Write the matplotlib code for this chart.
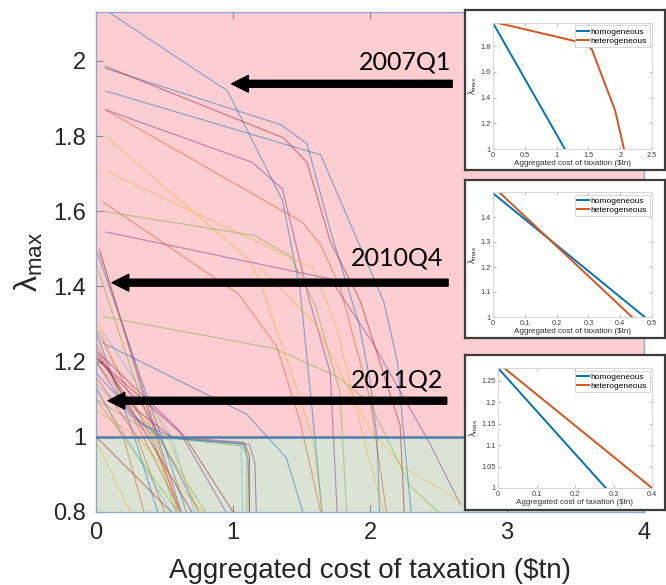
import matplotlib
matplotlib.use("Agg")
import matplotlib.pyplot as plt
from matplotlib.patches import FancyArrowPatch

plt.rcParams['font.family'] = ['Liberation Sans', 'DejaVu Sans']
plt.rcParams['mathtext.fontset'] = 'custom'
plt.rcParams['mathtext.rm'] = 'Liberation Sans'
plt.rcParams['mathtext.it'] = 'Liberation Sans'

# MATLAB default line colours
palette = ['#0072BD', '#D95319', '#EDB120', '#7E2F8E', '#77AC30', '#4DBEEE', '#A2142F']

# frontier per quarter: lambda_max against aggregated cost of taxation
early_x = [
    [0.05, 0.96, 1.36, 1.49, 1.57, 1.65],
    [0.07, 1.35, 1.54, 1.71, 1.92, 2.0, 2.05, 2.07],
    [0.07, 1.37, 1.54, 1.71, 1.93, 2.22, 2.25],
    [0.07, 1.64, 2.1, 2.2, 2.24, 2.3],
    [0.07, 1.14, 1.36, 1.56, 1.71, 1.76],
    [0.07, 1.51, 1.64, 1.78, 2.0, 2.12],
    [0.07, 1.12, 1.2, 1.49, 1.58, 1.65],
    [0.08, 1.58, 1.75, 1.95, 2.1],
    [0.05, 1.04, 1.32, 1.49, 1.64],
    [0.05, 1.16, 1.42, 1.6, 1.78, 1.83],
    [0.07, 1.71, 2.02, 2.44, 2.66],
]
early_y = [
    [2.14, 1.92, 1.63, 1.39, 1.1, 0.8],
    [1.98, 1.83, 1.78, 1.55, 1.3, 1.15, 1.0, 0.8],
    [1.985, 1.795, 1.73, 1.52, 1.36, 1.03, 0.8],
    [1.92, 1.75, 1.36, 1.2, 1.03, 0.8],
    [1.87, 1.73, 1.66, 1.36, 1.17, 0.8],
    [1.87, 1.57, 1.51, 1.40, 1.1, 0.8],
    [1.8, 1.47, 1.41, 1.1, 1.0, 0.8],
    [1.705, 1.45, 1.3, 1.0, 0.8],
    [1.625, 1.38, 1.24, 1.04, 0.8],
    [1.60, 1.535, 1.48, 1.35, 1.12, 0.8],
    [1.545, 1.42, 1.25, 0.98, 0.82],
]
early_c = [0, 0, 6, 0, 3, 1, 2, 2, 1, 4, 3]

mid_x = [
    [0.03, 0.45, 0.62],
    [0.0, 0.477, 0.66],
    [0.02, 0.42, 0.58],
    [0.023, 0.437, 0.6],
    [0.05, 1.3, 1.76, 2.0, 2.29, 2.5],
    [0.05, 1.1, 1.25, 1.39, 1.51],
    [1.2, 1.6, 2.0, 2.24, 2.66],
]
mid_y = [
    [1.49, 1.0, 0.8],
    [1.50, 1.0, 0.8],
    [1.44, 1.0, 0.8],
    [1.50, 1.0, 0.8],
    [1.32, 1.235, 1.16, 1.09, 0.87, 0.8],
    [1.25, 1.06, 1.0, 0.944, 0.8],
    [1.45, 1.3, 1.02, 0.92, 0.83],
]
mid_c = [3, 0, 4, 1, 4, 0, 2]

late_x = [
    [0.0, 0.28, 0.45],
    [0.016, 0.4, 0.62],
    [0.0, 0.25, 0.47, 1.12, 1.16, 1.17],
    [0.0, 0.3, 0.5, 1.04, 1.06, 1.07],
    [0.0, 0.35, 0.6, 1.08, 1.11, 1.12],
    [0.0, 0.4, 0.7, 1.07, 1.1, 1.1],
    [0.0, 0.3, 0.55, 1.08, 1.12, 1.12],
    [0.0, 0.62],
    [0.02, 0.7],
    [0.0, 0.35, 0.75],
    [0.0, 0.25],
    [0.0, 0.3, 0.78],
    [0.0, 0.55],
    [0.05, 0.55, 0.72],
    [0.0, 0.45, 0.8],
    [0.0, 0.3, 0.5],
    [0.0, 0.2, 0.35],
    [0.02, 0.12, 0.5, 0.75],
    [0.0, 0.6, 0.95],
    [0.0, 0.65, 1.0],
    [0.0, 0.55],
    [0.0, 0.6],
]
late_y = [
    [1.28, 1.0, 0.8],
    [1.28, 1.0, 0.8],
    [1.2, 1.06, 1.0, 0.98, 0.93, 0.8],
    [1.14, 1.04, 0.995, 0.985, 0.97, 0.8],
    [1.17, 1.03, 0.995, 0.98, 0.94, 0.8],
    [1.1, 1.01, 0.99, 0.975, 0.95, 0.8],
    [1.22, 1.07, 1.0, 0.985, 0.95, 0.8],
    [1.25, 0.8],
    [1.22, 0.8],
    [1.21, 1.08, 0.8],
    [0.99, 0.8],
    [1.07, 1.0, 0.8],
    [1.0, 0.8],
    [1.28, 1.0, 0.8],
    [1.2, 1.0, 0.8],
    [1.16, 1.0, 0.8],
    [1.13, 1.0, 0.8],
    [1.3, 1.2, 1.02, 0.8],
    [1.23, 1.02, 0.8],
    [1.21, 1.0, 0.8],
    [1.13, 0.8],
    [1.1, 0.8],
]
late_c = [0, 1, 3, 5, 0, 4, 6, 1, 6, 3, 2, 2, 6, 5, 4, 1, 1, 2, 3, 6, 5, 4]

# highlighted quarters: label, arrow tip, arrow tail, arrow height
quarters = ['2007Q1', '2010Q4', '2011Q2']
arrow_tip = [0.99, 0.117, 0.088]
arrow_tail = [2.6, 2.57, 2.56]
arrow_y = [1.939, 1.41, 1.096]
label_x = [2.255, 2.2, 2.2]
label_y = [1.997, 1.476, 1.152]

# inset frontiers, homogeneous vs heterogeneous taxation
ins1_hom_x, ins1_hom_y = [0.0, 1.13], [1.98, 1.0]
ins1_het_x = [0.08, 1.37, 1.55, 1.92, 1.99, 2.06]
ins1_het_y = [1.98, 1.83, 1.78, 1.30, 1.15, 1.0]
ins2_hom_x, ins2_hom_y = [0.0, 0.477], [1.495, 1.0]
ins2_het_x, ins2_het_y = [0.023, 0.437], [1.495, 1.0]
ins3_hom_x, ins3_hom_y = [0.0, 0.28], [1.28, 1.0]
ins3_het_x, ins3_het_y = [0.016, 0.4], [1.28, 1.0]

pink = '#FCCDD1'
green = '#DBE4D4'
spine_col = '#8EA9CB'

fig = plt.figure(figsize=(6.66, 5.85), dpi=100)
ax = fig.add_axes([96 / 666, 1 - 512 / 585, 548 / 666, 500 / 585])
ax.axhspan(1.0, 2.2, color=pink, lw=0, zorder=0)
ax.axhspan(0.6, 1.0, color=green, lw=0, zorder=0)

for xs_all, ys_all, cs in [(early_x, early_y, early_c), (mid_x, mid_y, mid_c), (late_x, late_y, late_c)]:
    for xs, ys, c in zip(xs_all, ys_all, cs):
        ax.plot(xs, ys, color=palette[c], lw=0.8, alpha=0.5, zorder=2)

ax.axhline(1.0, color='#4F7CAC', lw=1.8, zorder=3)
ax.set_xlim(0, 4)
ax.set_ylim(0.8, 2.13)
ax.set_xticks([0, 1, 2, 3, 4])
ax.set_xticklabels(['0', '1', '2', '3', '4'])
ax.set_yticks([0.8, 1.0, 1.2, 1.4, 1.6, 1.8, 2.0])
ax.set_yticklabels(['0.8', '1', '1.2', '1.4', '1.6', '1.8', '2'])
ax.tick_params(direction='in', length=5, top=True, right=True, labelsize=17,
               color='#8a8a8a', labelcolor='#262626', pad=7)
for s in ax.spines.values():
    s.set_color(spine_col)
    s.set_linewidth(1.0)
ax.set_xlabel('Aggregated cost of taxation ($tn)', fontsize=20, color='#262626', labelpad=10)
ax.set_ylabel(r'$\lambda_{\rm max}$', fontsize=23, color='#262626', labelpad=6)

for name, tip, tail, ya, lx, ly in zip(quarters, arrow_tip, arrow_tail, arrow_y, label_x, label_y):
    ax.add_patch(FancyArrowPatch((tail, ya), (tip, ya),
                                 arrowstyle='simple,head_length=12,head_width=12,tail_width=5',
                                 mutation_scale=1, color='black', shrinkA=0, shrinkB=0, zorder=5))
    ax.text(lx, ly, name, fontsize=18, family=['Lato', 'DejaVu Sans'],
            ha='center', va='center', color='black', zorder=5)


def draw_inset(box, inner, hx, hy, tx, ty, xlim, ylim, xt, xtl, yt, ytl):
    bg = fig.add_axes(box, zorder=5)
    bg.set_facecolor('white')
    bg.set_xticks([])
    bg.set_yticks([])
    for s in bg.spines.values():
        s.set_color('#3c3c3c')
        s.set_linewidth(1.6)
    ia = fig.add_axes(inner, zorder=6)
    ia.plot(hx, hy, color=palette[0], lw=1.4, label='homogeneous')
    ia.plot(tx, ty, color=palette[1], lw=1.4, label='heterogeneous')
    ia.set_xlim(*xlim)
    ia.set_ylim(*ylim)
    ia.set_xticks(xt)
    ia.set_xticklabels(xtl)
    ia.set_yticks(yt)
    ia.set_yticklabels(ytl)
    ia.tick_params(direction='in', length=2, top=True, right=True, labelsize=5.3,
                   color='#bdbdbd', labelcolor='#404040', pad=2)
    for s in ia.spines.values():
        s.set_color('#d0d0d0')
        s.set_linewidth(0.6)
    ia.set_xlabel('Aggregated cost of taxation ($tn)', fontsize=5.8, color='#303030', labelpad=1)
    ia.set_ylabel(r'$\lambda_{\rm max}$', fontsize=6.5, color='#303030', labelpad=1)
    leg = ia.legend(loc='upper right', fontsize=6, handlelength=1.4, handletextpad=0.2,
                    borderpad=0.3, labelspacing=0.15, fancybox=False, framealpha=1,
                    borderaxespad=0.3)
    leg.get_frame().set_edgecolor('#c8c8c8')
    leg.get_frame().set_linewidth(0.5)


draw_inset([465 / 666, 1 - 170 / 585, 200 / 666, 160 / 585],
           [493 / 666, 1 - 149 / 585, 159 / 666, 126 / 585],
           ins1_hom_x, ins1_hom_y, ins1_het_x, ins1_het_y,
           (0, 2.5), (1, 1.98),
           [0, 0.5, 1, 1.5, 2, 2.5], ['0', '0.5', '1', '1.5', '2', '2.5'],
           [1, 1.2, 1.4, 1.6, 1.8], ['1', '1.2', '1.4', '1.6', '1.8'])
draw_inset([465 / 666, 1 - 338 / 585, 200 / 666, 158 / 585],
           [493 / 666, 1 - 317 / 585, 159 / 666, 125 / 585],
           ins2_hom_x, ins2_hom_y, ins2_het_x, ins2_het_y,
           (0, 0.5), (1, 1.5),
           [0, 0.1, 0.2, 0.3, 0.4, 0.5], ['0', '0.1', '0.2', '0.3', '0.4', '0.5'],
           [1, 1.1, 1.2, 1.3, 1.4], ['1', '1.1', '1.2', '1.3', '1.4'])
draw_inset([465 / 666, 1 - 510 / 585, 200 / 666, 155 / 585],
           [498 / 666, 1 - 488 / 585, 154 / 666, 120 / 585],
           ins3_hom_x, ins3_hom_y, ins3_het_x, ins3_het_y,
           (0, 0.4), (1, 1.28),
           [0, 0.1, 0.2, 0.3, 0.4], ['0', '0.1', '0.2', '0.3', '0.4'],
           [1, 1.05, 1.1, 1.15, 1.2, 1.25], ['1', '1.05', '1.1', '1.15', '1.2', '1.25'])

fig.savefig('out.png', dpi=100)
